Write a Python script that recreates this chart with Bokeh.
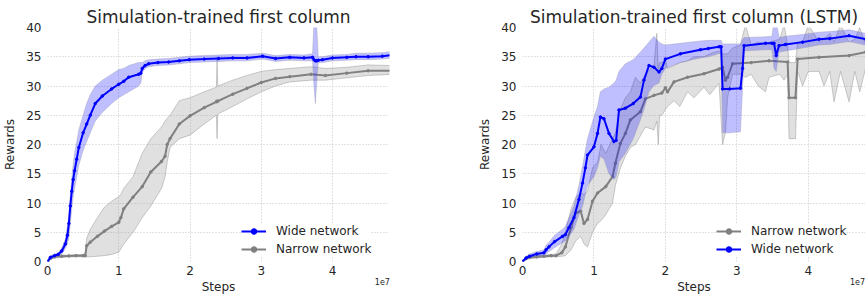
from bokeh.plotting import figure
from bokeh.layouts import row
from bokeh.models import Range1d, Legend, LegendItem, FixedTicker, LinearAxis
from bokeh.embed import file_html
from bokeh.resources import INLINE

# ---------------- data (x in units of 1e7 steps) ----------------
# Left panel: "Simulation-trained first column"
wide1_x = [0, 0.04, 0.1, 0.15, 0.2, 0.25, 0.28, 0.3, 0.32, 0.34, 0.36, 0.38, 0.41, 0.44, 0.5, 0.55,
           0.6, 0.67, 0.77, 0.9, 1.0, 1.07, 1.14, 1.28, 1.31, 1.33, 1.37, 1.42, 1.55, 1.7, 1.85, 1.99,
           2.2, 2.4, 2.6, 2.8, 3.02, 3.2, 3.4, 3.6, 3.72, 3.74, 3.76, 3.78, 3.80, 3.86, 4.0, 4.2,
           4.33, 4.5, 4.7, 4.84]
wide1_mean = [0, 0.7, 1.0, 1.2, 1.8, 3.0, 4.5, 6.5, 9.5, 12.0, 14.0, 15.5, 17.5, 19.5, 22.0, 23.5,
              25.0, 27.0, 28.3, 29.5, 30.3, 30.8, 31.5, 32.0, 32.2, 33.0, 33.5, 33.8, 34.0, 34.1, 34.3, 34.5,
              34.6, 34.7, 34.8, 34.8, 35.1, 34.7, 34.9, 34.8, 34.9, 34.5, 34.3, 34.3, 34.4, 34.5, 34.8, 34.9,
              35.0, 35.0, 35.1, 35.3]
wide1_lo = [0, 0.4, 0.7, 0.9, 1.3, 2.2, 3.0, 4.0, 6.5, 9.0, 11.0, 12.5, 14.5, 16.5, 19.0, 20.5,
            22.0, 24.0, 25.5, 27.0, 28.0, 28.5, 29.0, 30.0, 30.5, 32.3, 33.0, 33.3, 33.5, 33.6, 33.8, 34.0,
            34.1, 34.2, 34.3, 34.3, 34.6, 34.2, 34.4, 34.3, 34.3, 30.0, 27.0, 31.0, 34.0, 34.0, 34.3, 34.4,
            34.5, 34.5, 34.6, 34.8]
wide1_hi = [0, 1.0, 1.3, 1.5, 2.3, 3.8, 6.0, 8.0, 11.0, 14.0, 16.5, 18.5, 20.5, 22.5, 25.0, 27.0,
            28.5, 30.0, 31.0, 32.0, 32.8, 33.0, 33.5, 34.0, 34.0, 34.0, 34.3, 34.5, 34.6, 34.7, 34.9, 35.1,
            35.2, 35.3, 35.4, 35.4, 35.6, 35.2, 35.4, 35.3, 35.5, 41.0, 41.0, 40.0, 35.0, 35.0, 35.3, 35.4,
            35.6, 35.6, 35.7, 35.9]

narrow1_x = [0, 0.05, 0.1, 0.2, 0.3, 0.4, 0.5, 0.53, 0.55, 0.6, 0.7, 0.8, 0.9, 1.0, 1.03, 1.07, 1.2,
             1.33, 1.45, 1.6, 1.65, 1.68, 1.72, 1.85, 2.0, 2.2, 2.37, 2.38, 2.39, 2.6, 2.8, 3.0, 3.2,
             3.4, 3.7, 3.9, 4.2, 4.5, 4.84]
narrow1_mean = [0, 0.6, 0.8, 0.9, 0.95, 1.0, 1.0, 1.0, 2.7, 3.3, 4.3, 5.2, 6.0, 6.7, 7.5, 9.0, 11.0,
                12.8, 15.3, 17.1, 18.0, 20.0, 21.0, 23.5, 24.9, 26.3, 27.3, 27.4, 27.4, 28.6, 29.6, 30.6, 31.3,
                31.6, 32.0, 31.8, 32.2, 32.6, 32.6]
narrow1_lo = [0, 0.5, 0.6, 0.7, 0.8, 0.8, 0.8, 0.8, 0.8, 0.8, 0.9, 1.0, 1.2, 1.6, 2.2, 3.0, 5.0,
              7.5, 9.5, 12.5, 14.5, 17.0, 19.5, 21.0, 21.6, 23.5, 25.0, 21.0, 25.2, 26.5, 27.8, 29.0, 30.0,
              30.7, 31.0, 31.0, 31.4, 31.8, 32.0]
narrow1_hi = [0, 0.9, 1.0, 1.1, 1.1, 1.2, 1.2, 1.5, 4.0, 5.5, 7.5, 9.3, 10.3, 11.1, 11.5, 12.5, 14.5,
              18.5, 21.0, 23.0, 24.0, 24.5, 25.0, 27.5, 28.0, 29.0, 29.8, 34.5, 30.0, 31.0, 31.8, 32.5, 32.8,
              33.0, 33.3, 33.0, 33.2, 33.6, 33.5]

# Right panel: "Simulation-trained first column (LSTM)"
wide2_x = [0, 0.05, 0.1, 0.2, 0.3, 0.33, 0.37, 0.45, 0.56, 0.6, 0.65, 0.72, 0.79, 0.84, 0.88, 0.91,
           1.0, 1.05, 1.09, 1.14, 1.21, 1.28, 1.31, 1.35, 1.44, 1.55, 1.65, 1.70, 1.77, 1.84, 1.91, 1.95,
           2.0, 2.21, 2.49, 2.6, 2.75, 2.78, 2.80, 2.9, 3.05, 3.08, 3.10, 3.4, 3.49, 3.52, 3.55, 3.59,
           3.68, 3.92, 4.15, 4.3, 4.57, 4.8]
wide2_mean = [0, 0.6, 0.9, 1.3, 1.5, 2.0, 2.5, 3.4, 4.3, 4.6, 5.8, 7.5, 10.6, 13.4, 16.0, 18.2,
              19.6, 21.9, 24.7, 24.4, 21.9, 20.5, 20.7, 25.9, 26.2, 27.0, 28.1, 31.0, 33.5, 33.2, 32.4, 33.0,
              34.6, 35.5, 36.2, 36.4, 36.7, 36.7, 29.5, 29.5, 29.6, 33.0, 36.9, 37.3, 37.3, 37.3, 35.2, 36.9,
              37.1, 37.5, 38.0, 38.1, 38.6, 38.0]
wide2_lo = [0, 0.3, 0.6, 0.9, 1.0, 1.3, 1.7, 2.4, 3.2, 3.5, 4.3, 5.5, 8.0, 9.4, 11.5, 13.0,
            14.5, 16.0, 18.0, 17.5, 15.0, 14.0, 14.5, 17.0, 18.5, 21.0, 24.2, 26.0, 29.0, 30.1, 30.5, 32.0,
            33.0, 34.0, 34.8, 35.0, 35.5, 35.5, 22.0, 22.0, 22.2, 30.0, 36.0, 36.2, 36.2, 33.0, 32.5, 35.8,
            36.0, 36.5, 37.0, 37.1, 37.6, 37.0]
wide2_hi = [0, 0.9, 1.3, 1.7, 2.0, 2.8, 3.3, 4.5, 5.5, 6.0, 7.5, 9.5, 13.0, 16.2, 19.0, 21.0,
            24.7, 26.5, 29.0, 29.5, 29.8, 30.5, 31.0, 32.5, 33.8, 34.5, 35.8, 36.5, 37.5, 38.5, 37.5, 37.2,
            37.0, 37.3, 37.7, 37.8, 37.8, 37.8, 37.2, 37.2, 37.2, 38.0, 38.3, 38.4, 38.5, 41.0, 41.0, 38.3,
            38.5, 38.8, 39.2, 39.3, 39.6, 39.0]

narrow2_x = [0, 0.05, 0.1, 0.2, 0.3, 0.4, 0.47, 0.55, 0.6, 0.68, 0.745, 0.815, 0.86, 0.91, 0.98, 1.05,
             1.165, 1.26, 1.30, 1.37, 1.44, 1.51, 1.65, 1.72, 1.84, 1.95, 2.0, 2.03, 2.12, 2.31, 2.54,
             2.75, 2.8, 2.84, 2.87, 2.94, 3.2, 3.45, 3.71, 3.73, 3.82, 3.85, 4.15, 4.57, 4.8]
narrow2_mean = [0, 0.5, 0.7, 0.8, 0.9, 1.0, 1.0, 1.5, 2.5, 5.8, 8.3, 8.6, 6.5, 7.2, 10.3, 11.7,
                12.8, 14.5, 16.8, 20.2, 21.9, 24.2, 25.6, 27.8, 28.4, 28.8, 29.7, 29.0, 30.7, 31.5, 32.1,
                32.9, 33.2, 31.0, 31.5, 33.8, 34.0, 34.3, 34.1, 28.0, 28.0, 34.6, 34.9, 35.2, 35.8]
narrow2_band_x = [0, 0.05, 0.1, 0.2, 0.3, 0.4, 0.47, 0.55, 0.6, 0.68, 0.745, 0.815, 0.86, 0.91, 0.98,
                  1.05, 1.1, 1.165, 1.26, 1.30, 1.37, 1.44, 1.51, 1.58, 1.65, 1.72, 1.84, 1.88, 1.90,
                  1.92, 1.95, 2.0, 2.03, 2.12, 2.2, 2.31, 2.4, 2.54, 2.62, 2.75, 2.8, 2.84, 2.87, 2.94,
                  3.05, 3.12, 3.2, 3.3, 3.4, 3.45, 3.6, 3.66, 3.71, 3.73, 3.82, 3.85, 3.92, 4.0, 4.15,
                  4.22, 4.3, 4.36, 4.45, 4.57, 4.65, 4.72, 4.8]
narrow2_lo = [0, 0.3, 0.5, 0.6, 0.7, 0.8, 0.8, 0.9, 1.0, 2.0, 3.5, 4.3, 3.0, 2.5, 5.0,
              6.5, 7.0, 8.0, 10.0, 13.0, 16.0, 18.0, 19.5, 20.0, 21.5, 23.0, 22.5, 24.0, 20.0,
              25.0, 25.0, 26.0, 26.5, 27.5, 26.5, 29.0, 28.0, 29.8, 28.5, 30.5, 20.0, 22.0, 28.0, 32.0,
              32.0, 31.5, 32.0, 30.0, 29.0, 31.5, 32.0, 31.0, 32.0, 21.0, 21.0, 32.5, 30.0, 32.5, 32.5,
              30.0, 32.5, 27.3, 32.5, 27.3, 32.5, 29.0, 33.0]
narrow2_hi = [0, 0.7, 0.9, 1.0, 1.1, 1.2, 1.3, 3.0, 5.0, 9.0, 11.0, 11.7, 11.5, 12.0, 16.0,
              17.0, 20.0, 18.5, 21.0, 22.0, 26.0, 28.0, 29.0, 31.5, 30.5, 32.0, 33.5, 39.0, 33.0,
              34.0, 34.0, 34.5, 33.0, 33.5, 34.0, 34.3, 35.0, 35.0, 35.5, 36.0, 35.5, 35.5, 35.5, 36.5,
              37.0, 40.5, 37.0, 37.5, 37.2, 37.5, 38.0, 40.5, 37.0, 34.0, 34.0, 37.5, 37.5, 40.5, 37.5,
              38.0, 39.0, 37.5, 40.5, 37.5, 38.0, 40.0, 37.0]

x_ticks = [0, 1, 2, 3, 4]
y_ticks = [0, 5, 10, 15, 20, 25, 30, 35, 40]
offset_tick = 4.70          # where the "1e7" multiplier text sits on the x scale
offset_text = "1e7"
titles = ["Simulation-trained first column", "Simulation-trained first column (LSTM)"]

BLUE = "#0000ff"
GREY = "#808080"
FONT = "DejaVu Sans"
TXT = "#262626"


def style_axis(ax):
    ax.axis_line_color = None
    ax.major_tick_line_color = None
    ax.minor_tick_line_color = None
    ax.major_tick_out = 0
    ax.major_tick_in = 0
    ax.minor_tick_out = 0
    ax.major_label_text_font = FONT
    ax.major_label_text_font_size = "12px"
    ax.major_label_text_color = TXT
    ax.axis_label_text_font = FONT
    ax.axis_label_text_font_size = "12px"
    ax.axis_label_text_font_style = "normal"
    ax.axis_label_text_color = TXT


def make_fig(title, width, mbl, mbr, xend):
    p = figure(width=width, height=296, x_range=Range1d(0, xend), y_range=Range1d(0, 40),
               output_backend="svg", toolbar_location=None,
               min_border_left=mbl, min_border_right=mbr, min_border_top=27, min_border_bottom=30)
    p.title.text = title
    p.title.text_font = FONT
    p.title.text_font_size = "17px"
    p.title.text_font_style = "normal"
    p.title.text_color = TXT
    p.title.align = "center"
    p.title.standoff = 2
    p.outline_line_color = None
    p.background_fill_color = "white"
    p.border_fill_color = "white"
    p.xaxis.ticker = FixedTicker(ticks=x_ticks)
    p.yaxis.ticker = FixedTicker(ticks=y_ticks)
    style_axis(p.xaxis[0])
    style_axis(p.yaxis[0])
    p.xaxis.major_label_standoff = 4
    p.yaxis.major_label_standoff = 6
    p.yaxis.axis_label_standoff = 6
    p.yaxis.axis_label = "Rewards"
    # second bottom axis: carries the "1e7" multiplier and the "Steps" label
    ax2 = LinearAxis(ticker=FixedTicker(ticks=[offset_tick]),
                     major_label_overrides={offset_tick: offset_text},
                     axis_label="Steps")
    style_axis(ax2)
    ax2.major_label_text_font_size = "8px"
    ax2.major_label_standoff = 0
    ax2.axis_label_standoff = -8
    p.add_layout(ax2, "below")
    for g in (p.xgrid, p.ygrid):
        g.grid_line_color = "#c4c4c4"
        g.grid_line_dash = "1 2"
        g.grid_line_width = 1
    p.xgrid.ticker = FixedTicker(ticks=x_ticks)
    p.ygrid.ticker = FixedTicker(ticks=y_ticks)
    return p


def add_series(p, bx, lo, hi, x, mean, color, fill, fill_alpha, edge):
    p.varea(x=bx, y1=lo, y2=hi, fill_color=fill, fill_alpha=fill_alpha)
    p.line(bx, lo, line_color=edge, line_width=0.7, line_alpha=0.6)
    p.line(bx, hi, line_color=edge, line_width=0.7, line_alpha=0.6)
    ln = p.line(x, mean, line_color=color, line_width=2)
    sc = p.scatter(x, mean, marker="circle", size=2.5, fill_color=color, line_color=color)
    return [ln, sc]


def make_legend(p, items):
    leg = Legend(items=items, location=(194, 5), border_line_color=None,
                 background_fill_color="white", background_fill_alpha=1.0,
                 label_text_font=FONT, label_text_font_size="12px", label_text_color=TXT,
                 glyph_width=25, glyph_height=14, label_height=14, spacing=4,
                 label_standoff=10, padding=4, margin=0)
    p.add_layout(leg, "center")


# Left panel
p1 = make_fig(titles[0], 472, 46, 83, 4.80)
r_n1 = add_series(p1, narrow1_x, narrow1_lo, narrow1_hi, narrow1_x, narrow1_mean,
                  GREY, "#999999", 0.3, "#888888")
r_w1 = add_series(p1, wide1_x, wide1_lo, wide1_hi, wide1_x, wide1_mean,
                  BLUE, "#0000ff", 0.25, "#9a9ab8")
make_legend(p1, [LegendItem(label="Wide network", renderers=r_w1),
                 LegendItem(label="Narrow network", renderers=r_n1)])

# Right panel
p2 = make_fig(titles[1], 393, 50, 0, 4.80)
r_n2 = add_series(p2, narrow2_band_x, narrow2_lo, narrow2_hi, narrow2_x, narrow2_mean,
                  GREY, "#999999", 0.3, "#888888")
r_w2 = add_series(p2, wide2_x, wide2_lo, wide2_hi, wide2_x, wide2_mean,
                  BLUE, "#0000ff", 0.25, "#9a9ab8")
make_legend(p2, [LegendItem(label="Narrow network", renderers=r_n2),
                 LegendItem(label="Wide network", renderers=r_w2)])

layout = row(p1, p2)
open("out.html", "w").write(file_html(layout, INLINE))
